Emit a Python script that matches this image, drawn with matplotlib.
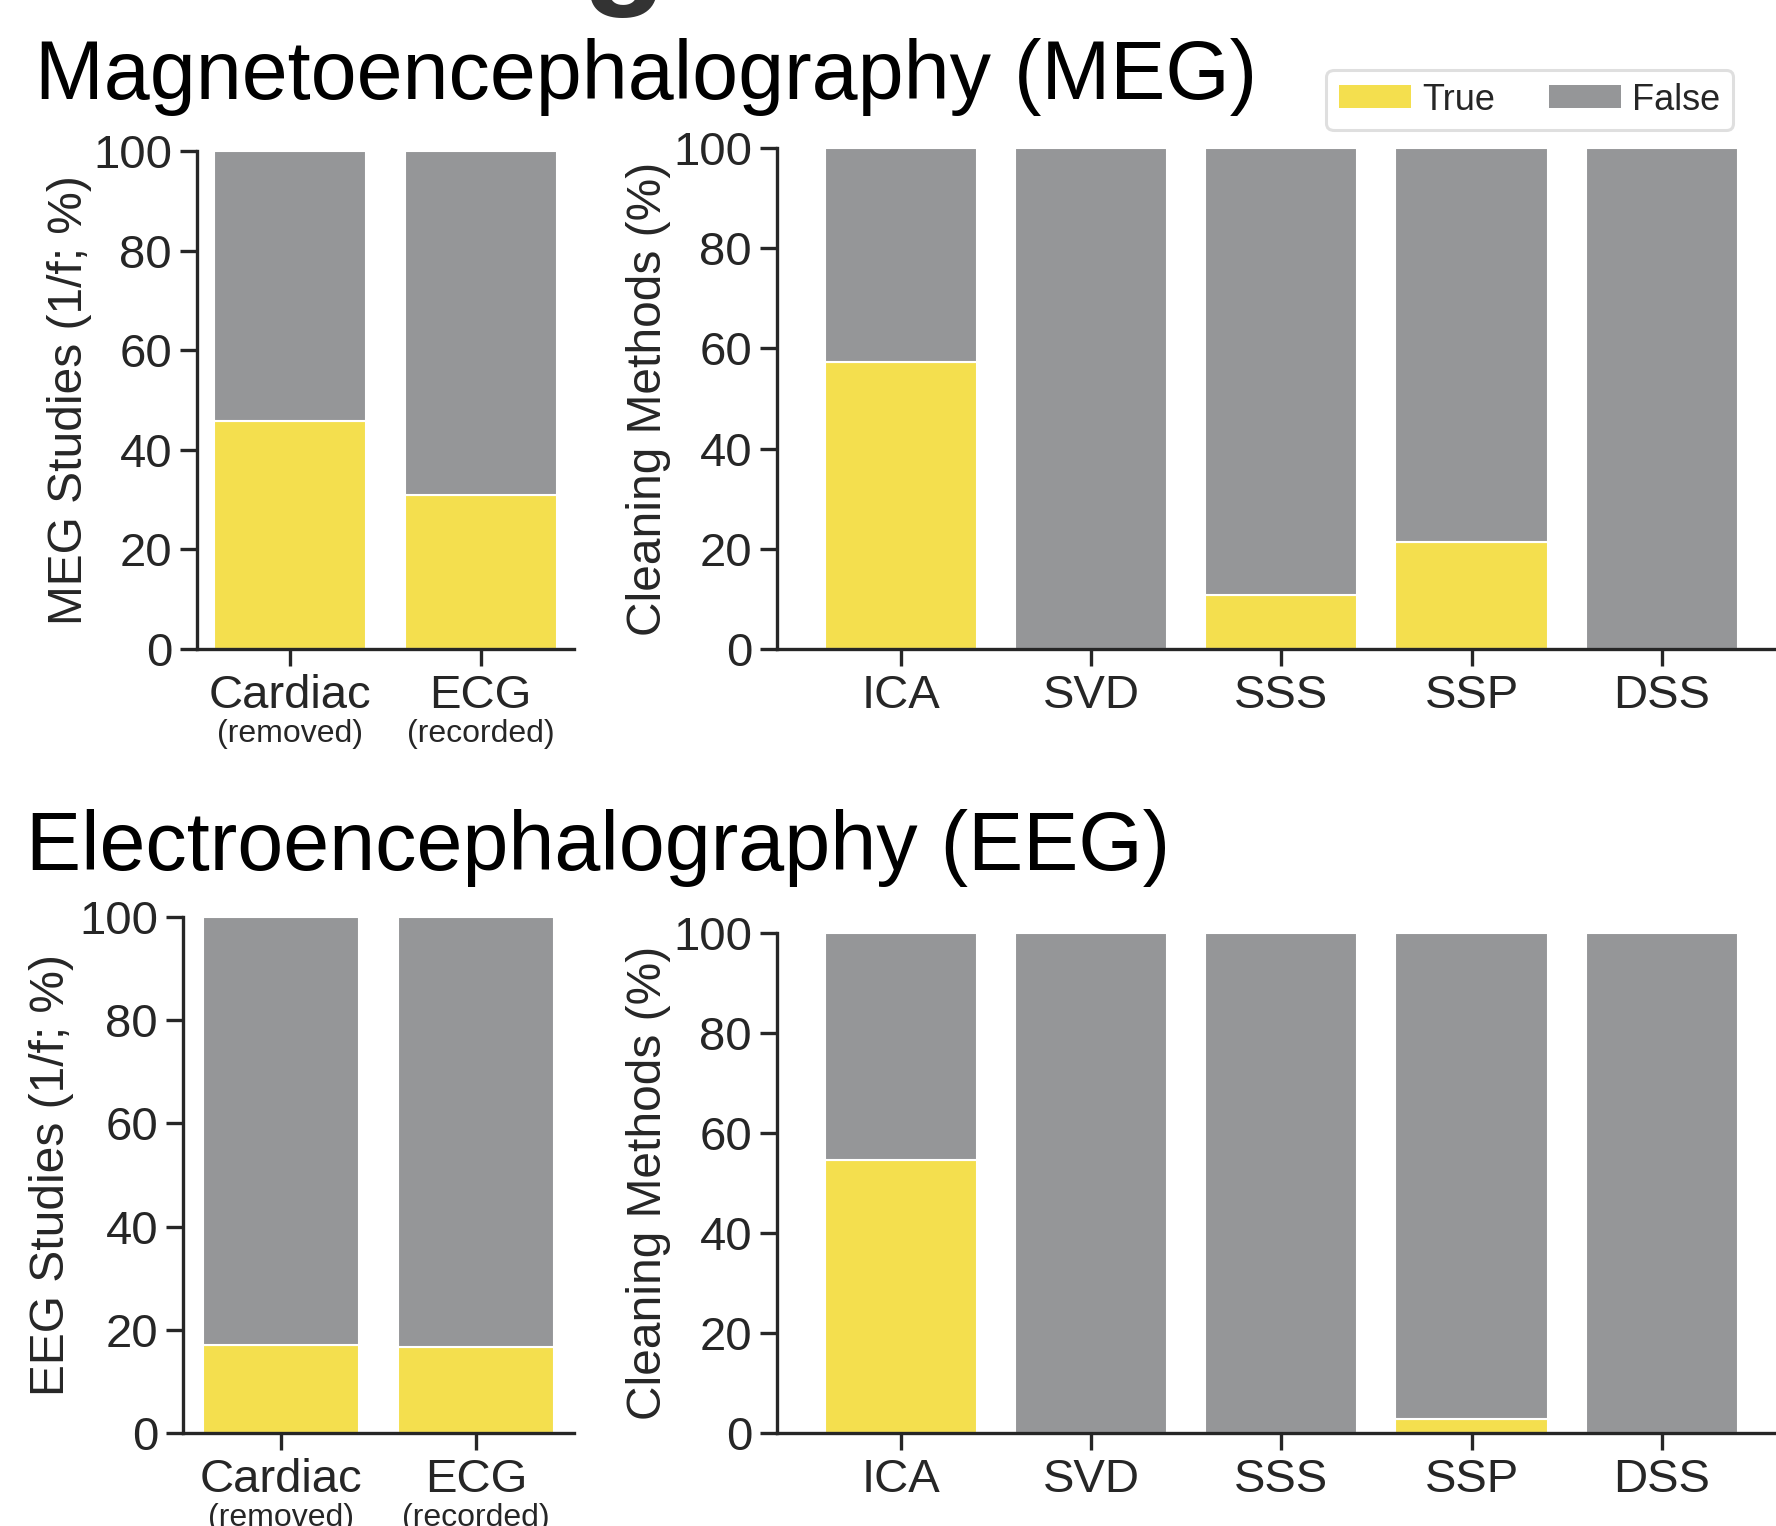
import numpy as np
import matplotlib
matplotlib.use("Agg")
import matplotlib.pyplot as plt
from matplotlib.patches import Patch

plt.rcParams['font.family'] = ['Liberation Sans', 'DejaVu Sans']

# data (percent of studies / methods flagged True)
artifact_labels = ['Cardiac', 'ECG']
artifact_subs = ['(removed)', '(recorded)']
method_labels = ['ICA', 'SVD', 'SSS', 'SSP', 'DSS']

meg_artifact_true = [45.7, 31.0]
meg_method_true = [57.2, 0.0, 10.8, 21.4, 0.0]
eeg_artifact_true = [17.1, 16.7]
eeg_method_true = [54.6, 0.0, 0.0, 2.8, 0.0]

YELLOW = '#F4DF4E'
GRAY = '#959698'
DARK = '#262626'

W, H = 1776, 1526
fig = plt.figure(figsize=(W / 100, H / 100), dpi=100)


def px_axes(x0, y0, x1, y1):
    return fig.add_axes([x0 / W, 1 - y1 / H, (x1 - x0) / W, (y1 - y0) / H])


def draw(ax, labels, true_vals, xlim, ylabel, label_x, subs=None):
    x = np.arange(len(labels))
    tv = np.array(true_vals)
    ax.bar(x, tv, width=0.8, color=YELLOW, edgecolor='white', linewidth=1.5, zorder=2)
    ax.bar(x, 100 - tv, bottom=tv, width=0.8, color=GRAY, edgecolor='white', linewidth=1.5, zorder=2)
    ax.set_xlim(*xlim)
    ax.set_ylim(0, 100)
    ax.set_yticks([0, 20, 40, 60, 80, 100])
    ax.set_xticks(x)
    ax.set_xticklabels(labels)
    for s in ['top', 'right']:
        ax.spines[s].set_visible(False)
    for s in ['left', 'bottom']:
        ax.spines[s].set_linewidth(2.4)
        ax.spines[s].set_color(DARK)
        ax.spines[s].set_zorder(5)
    ax.tick_params(axis='both', length=12, width=2.4, color=DARK,
                   labelsize=34, labelcolor=DARK, pad=6)
    ax.set_ylabel(ylabel, fontsize=34.5, color=DARK)
    ax.yaxis.set_label_coords(label_x, 0.5)
    if subs:
        for i, s in enumerate(subs):
            ax.annotate(s, xy=(i, 0), xycoords=('data', 'axes fraction'),
                        xytext=(0, -61), textcoords='offset points',
                        ha='center', va='center', fontsize=23, color=DARK)


ax1 = px_axes(197, 151, 574, 649)
draw(ax1, artifact_labels, meg_artifact_true, (-0.49, 1.49),
     'MEG Studies (1/f; %)', -0.278, artifact_subs)

ax2 = px_axes(777, 148, 1776, 649)
draw(ax2, method_labels, meg_method_true, (-0.65, 4.6),
     'Cleaning Methods (%)', -0.106)

ax3 = px_axes(183, 917, 574, 1433)
draw(ax3, artifact_labels, eeg_artifact_true, (-0.5, 1.5),
     'EEG Studies (1/f; %)', -0.278, artifact_subs)

ax4 = px_axes(777, 933, 1776, 1433)
draw(ax4, method_labels, eeg_method_true, (-0.65, 4.6),
     'Cleaning Methods (%)', -0.106)

# section titles
fig.text(35 / W, 1 - 99 / H, 'Magnetoencephalography (MEG)', fontsize=59.5,
         color='black', ha='left', va='baseline')
fig.text(26 / W, 1 - 870 / H, 'Electroencephalography (EEG)', fontsize=59.5,
         color='black', ha='left', va='baseline')

# descender of a cropped heading above the figure
fig.text(624 / W, 1 + 12 / H, 'g', fontsize=100, fontweight='bold',
         color='#333333', ha='center', va='baseline')

handles = [Patch(facecolor=YELLOW, edgecolor='none', label='True'),
           Patch(facecolor=GRAY, edgecolor='none', label='False')]
leg = fig.legend(handles=handles, loc='upper right', ncol=2,
                 bbox_to_anchor=(1733 / W, 1 - 70 / H), borderaxespad=0,
                 fontsize=26, handlelength=2.0, handleheight=0.6,
                 handletextpad=0.3, columnspacing=1.5, borderpad=0.35,
                 frameon=True, fancybox=True, labelcolor=DARK)
leg.get_frame().set_edgecolor('#d8d8d8')
leg.get_frame().set_linewidth(2.2)

fig.savefig('out.png', dpi=100)
